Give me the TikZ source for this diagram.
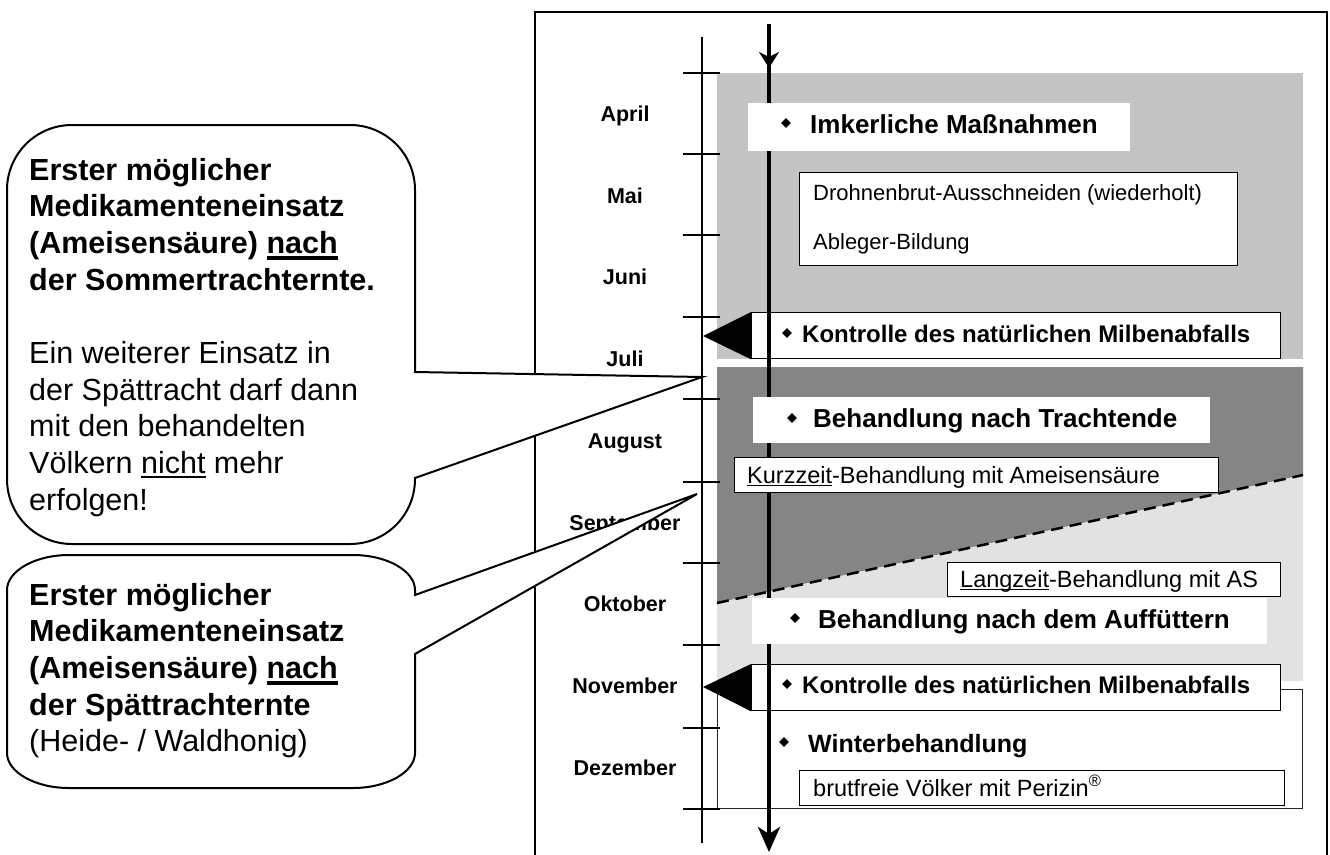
\documentclass[tikz,border=0pt]{standalone}
\usepackage{fontspec}
\setmainfont{Liberation Sans}
\usetikzlibrary{arrows.meta,shapes.geometric}
\definecolor{grayA}{HTML}{C4C4C4}
\definecolor{grayB}{HTML}{858585}
\definecolor{grayC}{HTML}{E2E2E2}
\newcommand{\ulb}[1]{\setbox0\hbox{#1}\makebox[0pt][l]{\rule[-0.2em]{\wd0}{0.1em}}\box0\relax}
\newcommand{\ulr}[1]{\setbox0\hbox{#1}\makebox[0pt][l]{\rule[-0.14em]{\wd0}{0.065em}}\box0\relax}
\begin{document}
\begin{tikzpicture}[x=1pt,y=-1pt,line join=miter,
  month/.style={font=\bfseries\fontsize{21.5}{24}\selectfont, anchor=base, inner sep=0},
  hdr/.style={font=\bfseries\fontsize{26}{30}\selectfont, anchor=base west, inner sep=0},
  ctl/.style={font=\bfseries\fontsize{24}{28}\selectfont, anchor=base west, inner sep=0},
  txtsm/.style={font=\fontsize{22}{26}\selectfont, anchor=base west, inner sep=0},
  txtmd/.style={font=\fontsize{23.5}{27}\selectfont, anchor=base west, inner sep=0},
  panel/.style={anchor=north west, inner sep=0, fill=white, rectangle},
  pbox/.style={panel, draw=black, line width=1.3pt},
  bul/.style={diamond, fill=black, inner sep=0, minimum size=10pt},
  bubble/.style={draw=black, fill=white, line width=2pt},
  ctext/.style={font=\fontsize{30.5}{36.7}\selectfont, anchor=base west, inner sep=0, align=left}
]
\useasboundingbox (0,0) rectangle (1330,854);
\clip (0,0) rectangle (1330,854);
\fill[white] (0,0) rectangle (1330,854);

% outer frame
\draw[line width=1.5pt] (535,870) -- (535,12) -- (1327,12) -- (1327,870);

% shaded periods
\fill[grayA] (717,73) rectangle (1303,359);
\fill[grayB] (717,367) -- (1303,367) -- (1303,475) -- (717,603) -- cycle;
\fill[grayC] (717,603) -- (1303,475) -- (1303,681) -- (717,681) -- cycle;
\draw[line width=2.5pt, dash pattern=on 12pt off 7pt] (717,603) -- (1303,475);

% winter panel
\node[panel, draw=black!85, line width=1pt, minimum width=585pt, minimum height=119pt] (winter) at (717,689) {};

% Kontrolle boxes with pointers
\node[pbox, minimum width=529pt, minimum height=46pt] (k1) at (751,312) {};
\fill (k1.north west) -- (k1.south west) -- (703,336) -- cycle;
\node[pbox, minimum width=529pt, minimum height=46pt] (k2) at (751,664) {};
\fill (k2.north west) -- (k2.south west) -- (703,687) -- cycle;

% month axis
\draw[line width=1.8pt] (702,37) -- (702,843);
\foreach \y in {73,154,235,317,399,482,563,645,728,809}
  \draw[line width=2.5pt] (683,\y) -- (720,\y);

% time arrow
\coordinate (ta) at (769,24);
\coordinate (tb) at (769,68);
\coordinate (tc) at (769,852);
\draw[line width=4pt, -{Stealth[length=16pt,width=20pt,inset=5pt]}] (ta) -- (tb);
\draw[line width=4pt, -{Stealth[length=25pt,width=22pt,inset=7pt]}] (769,64) -- (tc);

% white boxes
\node[panel, minimum width=382pt, minimum height=48pt] (imk) at (748,103) {};
\node[pbox, minimum width=438pt, minimum height=93pt] (dro) at (799,172) {};
\node[panel, minimum width=457pt, minimum height=46pt] (tra) at (753,397) {};
\node[pbox, minimum width=484pt, minimum height=35pt] (kur) at (734,457) {};
\node[pbox, minimum width=333pt, minimum height=34pt] (lan) at (947,562) {};
\node[panel, minimum width=515pt, minimum height=46pt] (auf) at (752,598) {};
\node[pbox, minimum width=485pt, minimum height=35pt] (bru) at (799,770) {};

% texts
\node[bul] (b1) at (786,123) {};
\node[hdr] (t1) at (810,133) {Imkerliche Maßnahmen};
\node[txtsm] (t2) at (813,200) {Drohnenbrut-Ausschneiden (wiederholt)};
\node[txtsm] (t3) at (813,249) {Ableger-Bildung};
\node[bul] (b2) at (787,333) {};
\node[ctl] (t4) at (802,342) {Kontrolle des natürlichen Milbenabfalls};
\node[bul] (b3) at (792,418) {};
\node[hdr] (t5) at (813,427) {Behandlung nach Trachtende};
\node[txtmd] (t6) at (747,483) {\ulr{Kurzzeit}-Behandlung mit Ameisensäure};
\node[txtmd] (t7) at (960,587) {\ulr{Langzeit}-Behandlung mit AS};
\node[bul] (b4) at (795,618) {};
\node[hdr] (t8) at (818,628) {Behandlung nach dem Auffüttern};
\node[bul] (b5) at (787,684) {};
\node[ctl] (t9) at (802,693) {Kontrolle des natürlichen Milbenabfalls};
\node[bul] (b6) at (784,742) {};
\node[hdr, font=\bfseries\fontsize{25}{30}\selectfont] (t10) at (808,752) {Winterbehandlung};
\node[txtmd] (t11) at (813,796) {brutfreie Völker mit Perizin\textsuperscript{®}};

% months
\foreach \m [count=\i] in {April,Mai,Juni,Juli,August,September,Oktober,November,Dezember}
  \node[month] (mon\i) at (625,{121.5+81.7*(\i-1)}) {\m};

% callout 1
\draw[bubble] (72,125) -- (350,125) .. controls (386,125) and (415,154) .. (415,190)
  -- (415,372) -- (702,377) -- (415,478) -- (415,479)
  .. controls (415,515) and (386,544) .. (350,544) -- (72,544)
  .. controls (36,544) and (7,515) .. (7,479) -- (7,190)
  .. controls (7,154) and (36,125) .. (72,125) -- cycle;
% base anchor of a multi-line node is the last line's baseline
\node[ctext] (c1) at (29,510.3) {\textbf{Erster möglicher}\\
\textbf{Medikamenteneinsatz}\\
\textbf{(Ameisensäure) \ulb{nach}}\\
\textbf{der Sommertrachternte.}\\[36.7pt]
Ein weiterer Einsatz in\\
der Spättracht darf dann\\
mit den behandelten\\
Völkern \ulr{nicht} mehr\\
erfolgen!};

% callout 2
\draw[bubble] (69,555) -- (353,555) .. controls (387,555) and (415,571) .. (415,590)
  -- (415,595) -- (697,494) -- (415,654) -- (415,753)
  .. controls (415,772) and (387,788) .. (353,788) -- (69,788)
  .. controls (35,788) and (7,772) .. (7,753) -- (7,590)
  .. controls (7,571) and (35,555) .. (69,555) -- cycle;
\node[ctext] (c2) at (29,751.8) {\textbf{Erster möglicher}\\
\textbf{Medikamenteneinsatz}\\
\textbf{(Ameisensäure) \ulb{nach}}\\
\textbf{der Spättrachternte}\\
(Heide- / Waldhonig)};
\end{tikzpicture}
\end{document}
